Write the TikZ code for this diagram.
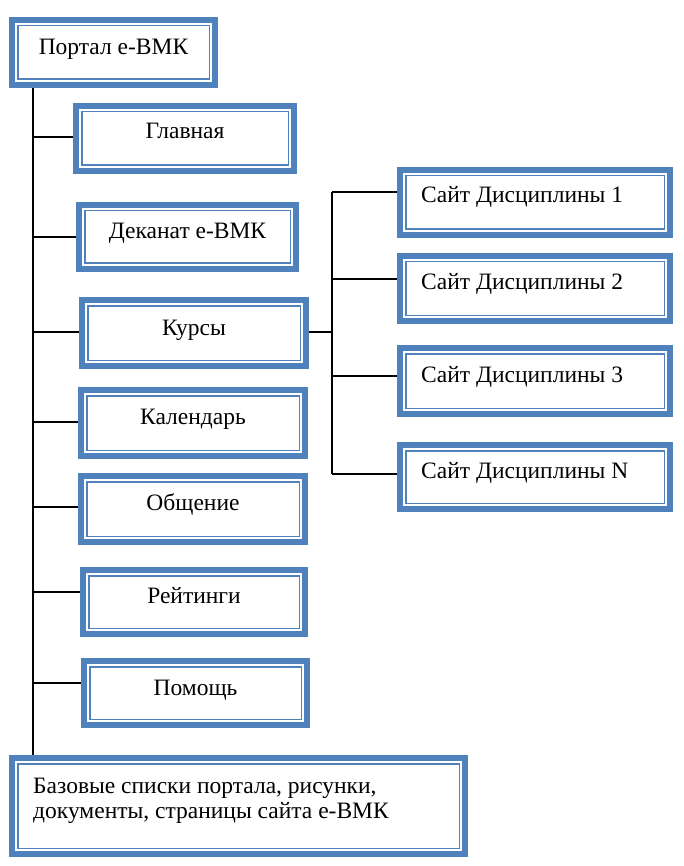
\documentclass[tikz,border=0pt]{standalone}
\usepackage{fontspec}
\setmainfont{Liberation Serif}
\usetikzlibrary{backgrounds}
\definecolor{bl}{HTML}{4F81BD}
\tikzset{
  vbox/.style={draw=bl, line width=6pt, fill=white, inner sep=0pt,
    path picture={\draw[bl, line width=1.5pt]
      ([shift={(5.75pt,5.75pt)}]path picture bounding box.south west) rectangle
      ([shift={(-5.75pt,-5.75pt)}]path picture bounding box.north east);}},
  lbl/.style={font=\fontsize{23.5}{25}\selectfont, inner sep=0pt, anchor=base},
  lbll/.style={lbl, anchor=base west, align=left},
  conn/.style={black, line width=1.8pt}
}
% \vb{name}{left}{top}{right}{bottom}
\newcommand\vb[5]{\node[vbox, minimum width=#4pt-#2pt-6pt, minimum height=#5pt-#3pt-6pt] (#1) at ({(#2+#4)/2},{(#3+#5)/2}) {};}
\begin{document}
\begin{tikzpicture}[x=1pt,y=-1pt]
\useasboundingbox (0,0) rectangle (683,866);
\coordinate (t0) at (33,88);
\coordinate (t1) at (33,755);
\vb{portal}{9}{17}{218}{88}
\vb{glav}{73}{103}{297}{174}
\vb{dek}{76}{202}{299}{272}
\vb{kurs}{79}{297}{309}{369}
\vb{kal}{78}{387}{308}{459}
\vb{obs}{78}{473}{308}{545}
\vb{rei}{80}{567}{308}{637}
\vb{pom}{81}{658}{310}{728}
\vb{baza}{9}{755}{468}{857}
\vb{s1}{397}{167}{673}{238}
\vb{s2}{397}{253}{673}{324}
\vb{s3}{397}{345}{673}{417}
\vb{sn}{397}{442}{673}{512}

\begin{pgfonlayer}{background}
\draw[conn] (t0) -- (t1);
\coordinate (jg) at (33,137);
\coordinate (jd) at (33,237);
\coordinate (jk) at (33,332);
\coordinate (jc) at (33,422);
\coordinate (jo) at (33,507);
\coordinate (jr) at (33,592);
\coordinate (jp) at (33,683);
\draw[conn] (jg) -- (jg -| glav.west);
\draw[conn] (jd) -- (jd -| dek.west);
\draw[conn] (jk) -- (jk -| kurs.west);
\draw[conn] (jc) -- (jc -| kal.west);
\draw[conn] (jo) -- (jo -| obs.west);
\draw[conn] (jr) -- (jr -| rei.west);
\draw[conn] (jp) -- (jp -| pom.west);

\coordinate (b1) at (332,192);
\coordinate (b2) at (332,279);
\coordinate (bk) at (332,332);
\coordinate (b3) at (332,376);
\coordinate (bn) at (332,474);
\draw[conn] (b1) -- (bn);
\draw[conn] (bk -| kurs.east) -- (bk);
\draw[conn] (b1) -- (b1 -| s1.west);
\draw[conn] (b2) -- (b2 -| s2.west);
\draw[conn] (b3) -- (b3 -| s3.west);
\draw[conn] (bn) -- (bn -| sn.west);
\end{pgfonlayer}

% texts
\node[lbl] (tportal) at (113.5,55) {Портал е-ВМК};
\node[lbl] (tglav) at (185,139) {Главная};
\node[lbl] (tdek) at (187.5,239) {Деканат е-ВМК};
\node[lbl] (tkurs) at (194,335) {Курсы};
\node[lbl] (tkal) at (193,424) {Календарь};
\node[lbl] (tobs) at (193,510) {Общение};
\node[lbl] (trei) at (194,603) {Рейтинги};
\node[lbl] (tpom) at (195.5,695) {Помощь};
\node[lbll] (ts1) at (421,203) {Сайт Дисциплины 1};
\node[lbll] (ts2) at (421,290) {Сайт Дисциплины 2};
\node[lbll] (ts3) at (421,382) {Сайт Дисциплины 3};
\node[lbll] (tsn) at (421,478) {Сайт Дисциплины N};
\node[lbll] (tbaza) at (33,818) {Базовые списки портала, рисунки,\\документы, страницы сайта е-ВМК};
\end{tikzpicture}
\end{document}
